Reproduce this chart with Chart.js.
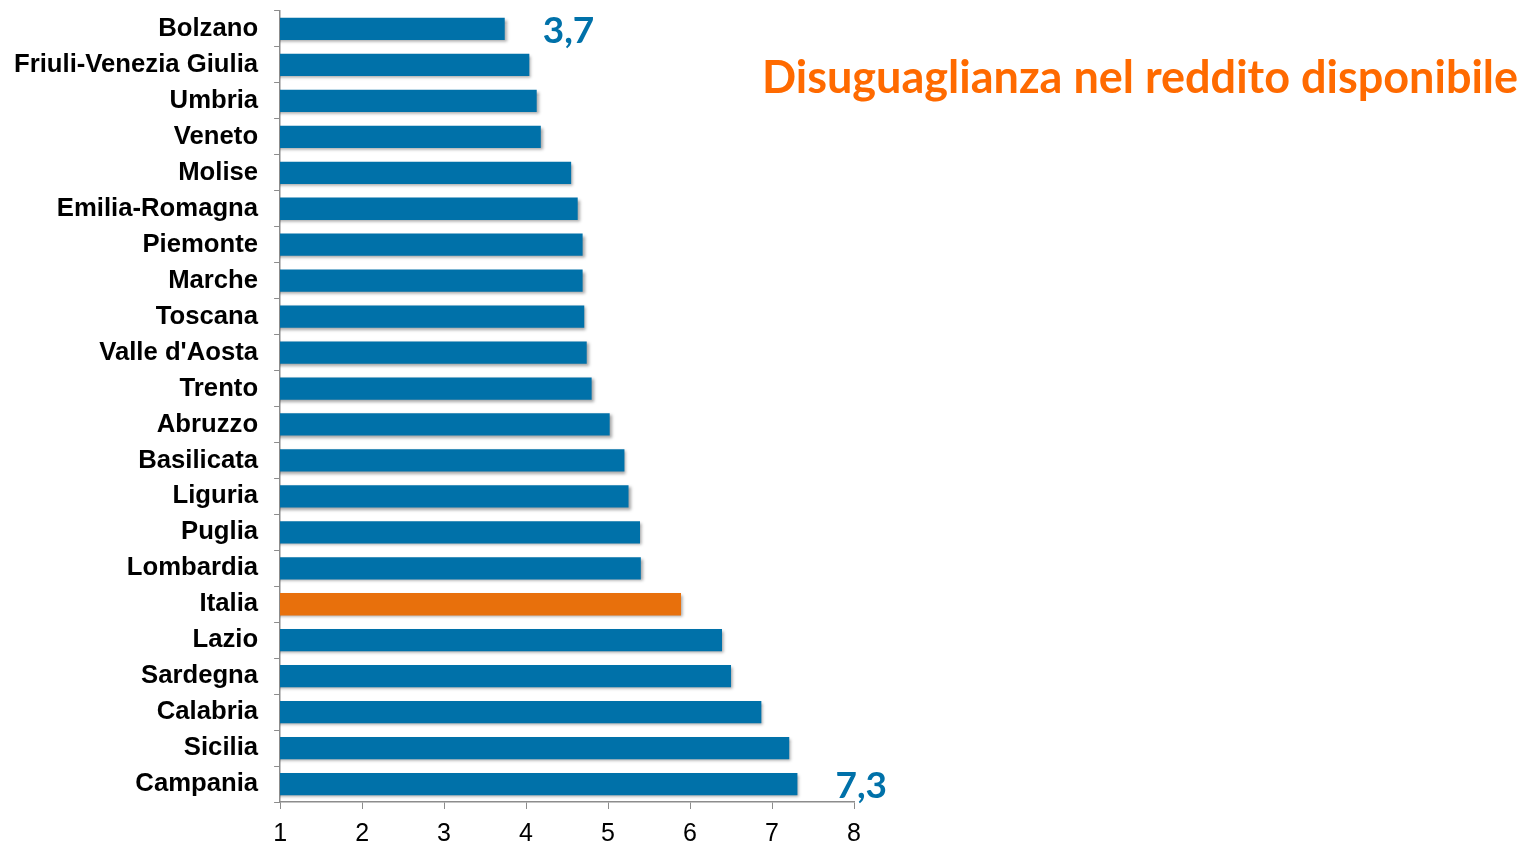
<!DOCTYPE html>
<html>
<head>
<meta charset="utf-8">
<script src="https://cdn.jsdelivr.net/npm/chart.js@4.4.1/dist/chart.umd.min.js"></script>
<style>
  html, body { margin: 0; padding: 0; background: #fff; }
  #wrap { width: 1522px; height: 843px; position: relative; }
</style>
</head>
<body>
<div id="wrap"><canvas id="chart"></canvas></div>
<script>
// regions, sorted from lowest to highest inequality
const regions = ['Bolzano', 'Friuli-Venezia Giulia', 'Umbria', 'Veneto', 'Molise', 'Emilia-Romagna',
  'Piemonte', 'Marche', 'Toscana', "Valle d'Aosta", 'Trento', 'Abruzzo', 'Basilicata', 'Liguria',
  'Puglia', 'Lombardia', 'Italia', 'Lazio', 'Sardegna', 'Calabria', 'Sicilia', 'Campania']
const values = [3.74, 4.04, 4.13, 4.18, 4.55, 4.63, 4.69, 4.69, 4.71, 4.74, 4.80, 5.02, 5.20, 5.25,
  5.39, 5.40, 5.89, 6.39, 6.50, 6.87, 7.21, 7.31]
const xTicks = [1, 2, 3, 4, 5, 6, 7, 8]
// highlighted values written next to the bars
const callouts = [
  { region: 'Bolzano', text: '3,7' },
  { region: 'Campania', text: '7,3' },
]
const title = 'Disuguaglianza nel reddito disponibile'

const blue = '#0071a9'
const orange = '#e8700c'
const barColors = regions.map(r => r === 'Italia' ? orange : blue)

// soft drop shadow under the bars, like the original
const barShadow = {
  id: 'barShadow',
  beforeDatasetsDraw(chart) {
    const ctx = chart.ctx
    ctx.save()
    ctx.shadowColor = 'rgba(0,0,0,0.35)'
    ctx.shadowOffsetX = 2
    ctx.shadowOffsetY = 2
    ctx.shadowBlur = 3
  },
  afterDatasetsDraw(chart) {
    chart.ctx.restore()
  }
}

const extras = {
  id: 'extras',
  afterDraw(chart) {
    const ctx = chart.ctx
    const x = chart.scales.x
    const y = chart.scales.y
    ctx.save()
    ctx.font = 'bold 37px Lato'
    ctx.fillStyle = blue
    ctx.textAlign = 'left'
    ctx.textBaseline = 'middle'
    callouts.forEach(c => {
      const i = regions.indexOf(c.region)
      ctx.fillText(c.text, x.getPixelForValue(values[i]) + 38, y.getPixelForValue(i) + 2)
    })
    ctx.font = 'bold 45px Lato'
    ctx.fillStyle = '#ff6a00'
    ctx.textAlign = 'center'
    ctx.fillText(title, 1140, 78)
    ctx.restore()
  }
}

new Chart(document.getElementById('chart'), {
  type: 'bar',
  data: {
    labels: regions,
    datasets: [{
      data: values,
      backgroundColor: barColors,
      barPercentage: 0.62,
      categoryPercentage: 1
    }]
  },
  options: {
    indexAxis: 'y',
    responsive: true,
    maintainAspectRatio: false,
    animation: false,
    layout: { padding: { top: 11, right: 668, bottom: 0, left: 14 } },
    plugins: {
      legend: { display: false },
      tooltip: { enabled: false }
    },
    scales: {
      x: {
        min: 1,
        max: 8,
        afterBuildTicks: axis => { axis.ticks = xTicks.map(v => ({ value: v })) },
        afterFit: axis => { axis.height = 41 },
        grid: { drawOnChartArea: false, tickLength: 7, color: '#8c8c8c' },
        border: { color: '#8c8c8c', width: 1.5 },
        ticks: { color: '#000', font: { family: 'Liberation Sans', size: 25 }, padding: 10 }
      },
      y: {
        offset: true,
        afterFit: axis => {
          axis.paddingTop = 0
          axis.paddingBottom = 0
          axis.width -= 16
        },
        grid: { drawOnChartArea: false, offset: true, tickLength: 6, color: '#8c8c8c' },
        border: { color: '#8c8c8c', width: 1.5 },
        ticks: { color: '#000', font: { family: 'Liberation Sans', size: 25.7, weight: 'bold' }, padding: 16 }
      }
    }
  },
  plugins: [barShadow, extras]
})
</script>
</body>
</html>
